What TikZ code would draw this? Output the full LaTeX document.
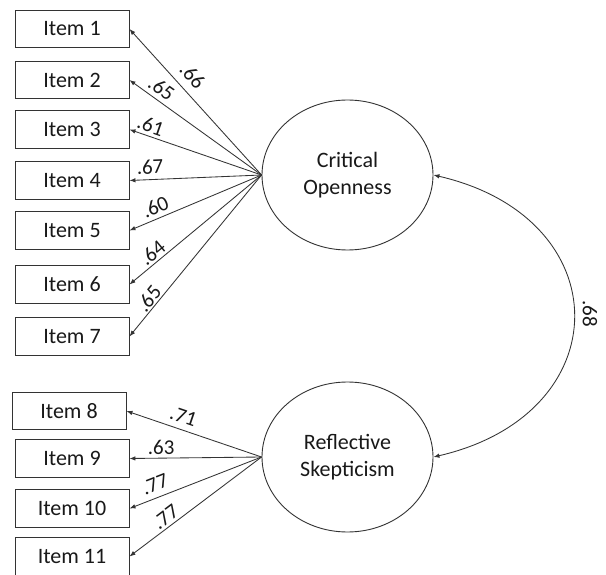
\documentclass[tikz,border=0pt]{standalone}
\usepackage{fontspec}
\setmainfont{Carlito}
\usetikzlibrary{arrows.meta,shapes.geometric}
\begin{document}
\begin{tikzpicture}[x=1pt,y=-1pt,
  itembox/.style={draw=black!80, line width=0.9pt, minimum width=114pt, minimum height=37.5pt, inner sep=0pt, font=\fontsize{22}{26}\selectfont, text=black!90},
  latent/.style={draw=black!80, line width=0.9pt, ellipse, minimum width=171pt, minimum height=150pt, inner sep=0pt, align=center, font=\fontsize{22}{27}\selectfont, text=black!90},
  load/.style={draw=black!80, line width=0.85pt, -{Latex[length=6pt,width=4.5pt]}},
  lbl/.style={sloped, inner sep=0pt, font=\fontsize{21}{25}\selectfont, text=black!90}
]
\useasboundingbox (0,0) rectangle (606,575);
\fill[white] (0,0) rectangle (606,575);

\node[itembox] (i1) at (72,29) {Item 1};
\node[itembox] (i2) at (72,80) {Item 2};
\node[itembox] (i3) at (72,129.5) {Item 3};
\node[itembox] (i4) at (72,180.5) {Item 4};
\node[itembox] (i5) at (72,230.5) {Item 5};
\node[itembox] (i6) at (72,284.5) {Item 6};
\node[itembox] (i7) at (72,336.5) {Item 7};
\node[itembox] (i8) at (69,411) {Item 8};
\node[itembox] (i9) at (72,458.5) {Item 9};
\node[itembox] (i10) at (72,508.5) {Item 10};
\node[itembox] (i11) at (72,556.5) {Item 11};

\node[latent] (co) at (347.5,175) {Critical\\Openness};
\node[latent] (rs) at (347.5,457) {Reflective\\Skepticism};

\draw[load] (co.west) -- node[lbl, pos=0.61, above=8pt] {.66} (i1.east);
\draw[load] (co.west) -- node[lbl, pos=0.81, above=4.5pt] {.65} (i2.east);
\draw[load] (co.west) -- node[lbl, pos=0.865, above=3pt] {.61} (i3.east);
\draw[load] (co.west) -- node[lbl, pos=0.84, above=5pt] {.67} (i4.east);
\draw[load] (co.west) -- node[lbl, pos=0.77, above=4pt] {.60} (i5.east);
\draw[load] (co.west) -- node[lbl, pos=0.78, above=2pt] {.64} (i6.east);
\draw[load] (co.west) -- node[lbl, pos=0.80, above=1.5pt] {.65} (i7.east);

\draw[load] (rs.west) -- node[lbl, pos=0.61, above=6pt] {.71} (i8.east);
\draw[load] (rs.west) -- node[lbl, pos=0.76, above=3pt] {.63} (i9.east);
\draw[load] (rs.west) -- node[lbl, pos=0.77, above=6pt] {.77} (i10.east);
\draw[load] (rs.west) -- node[lbl, pos=0.68, above=2.5pt] {.77} (i11.east);

\draw[draw=black!80, line width=0.85pt, {Latex[length=6pt,width=4.5pt]}-{Latex[length=6pt,width=4.5pt]}]
  (co.east) .. controls (620,218) and (620,414) .. (rs.east);
\node[rotate=-90, inner sep=0pt, font=\fontsize{21}{25}\selectfont, text=black!90] (r) at (590,314) {.68};
\end{tikzpicture}
\end{document}
